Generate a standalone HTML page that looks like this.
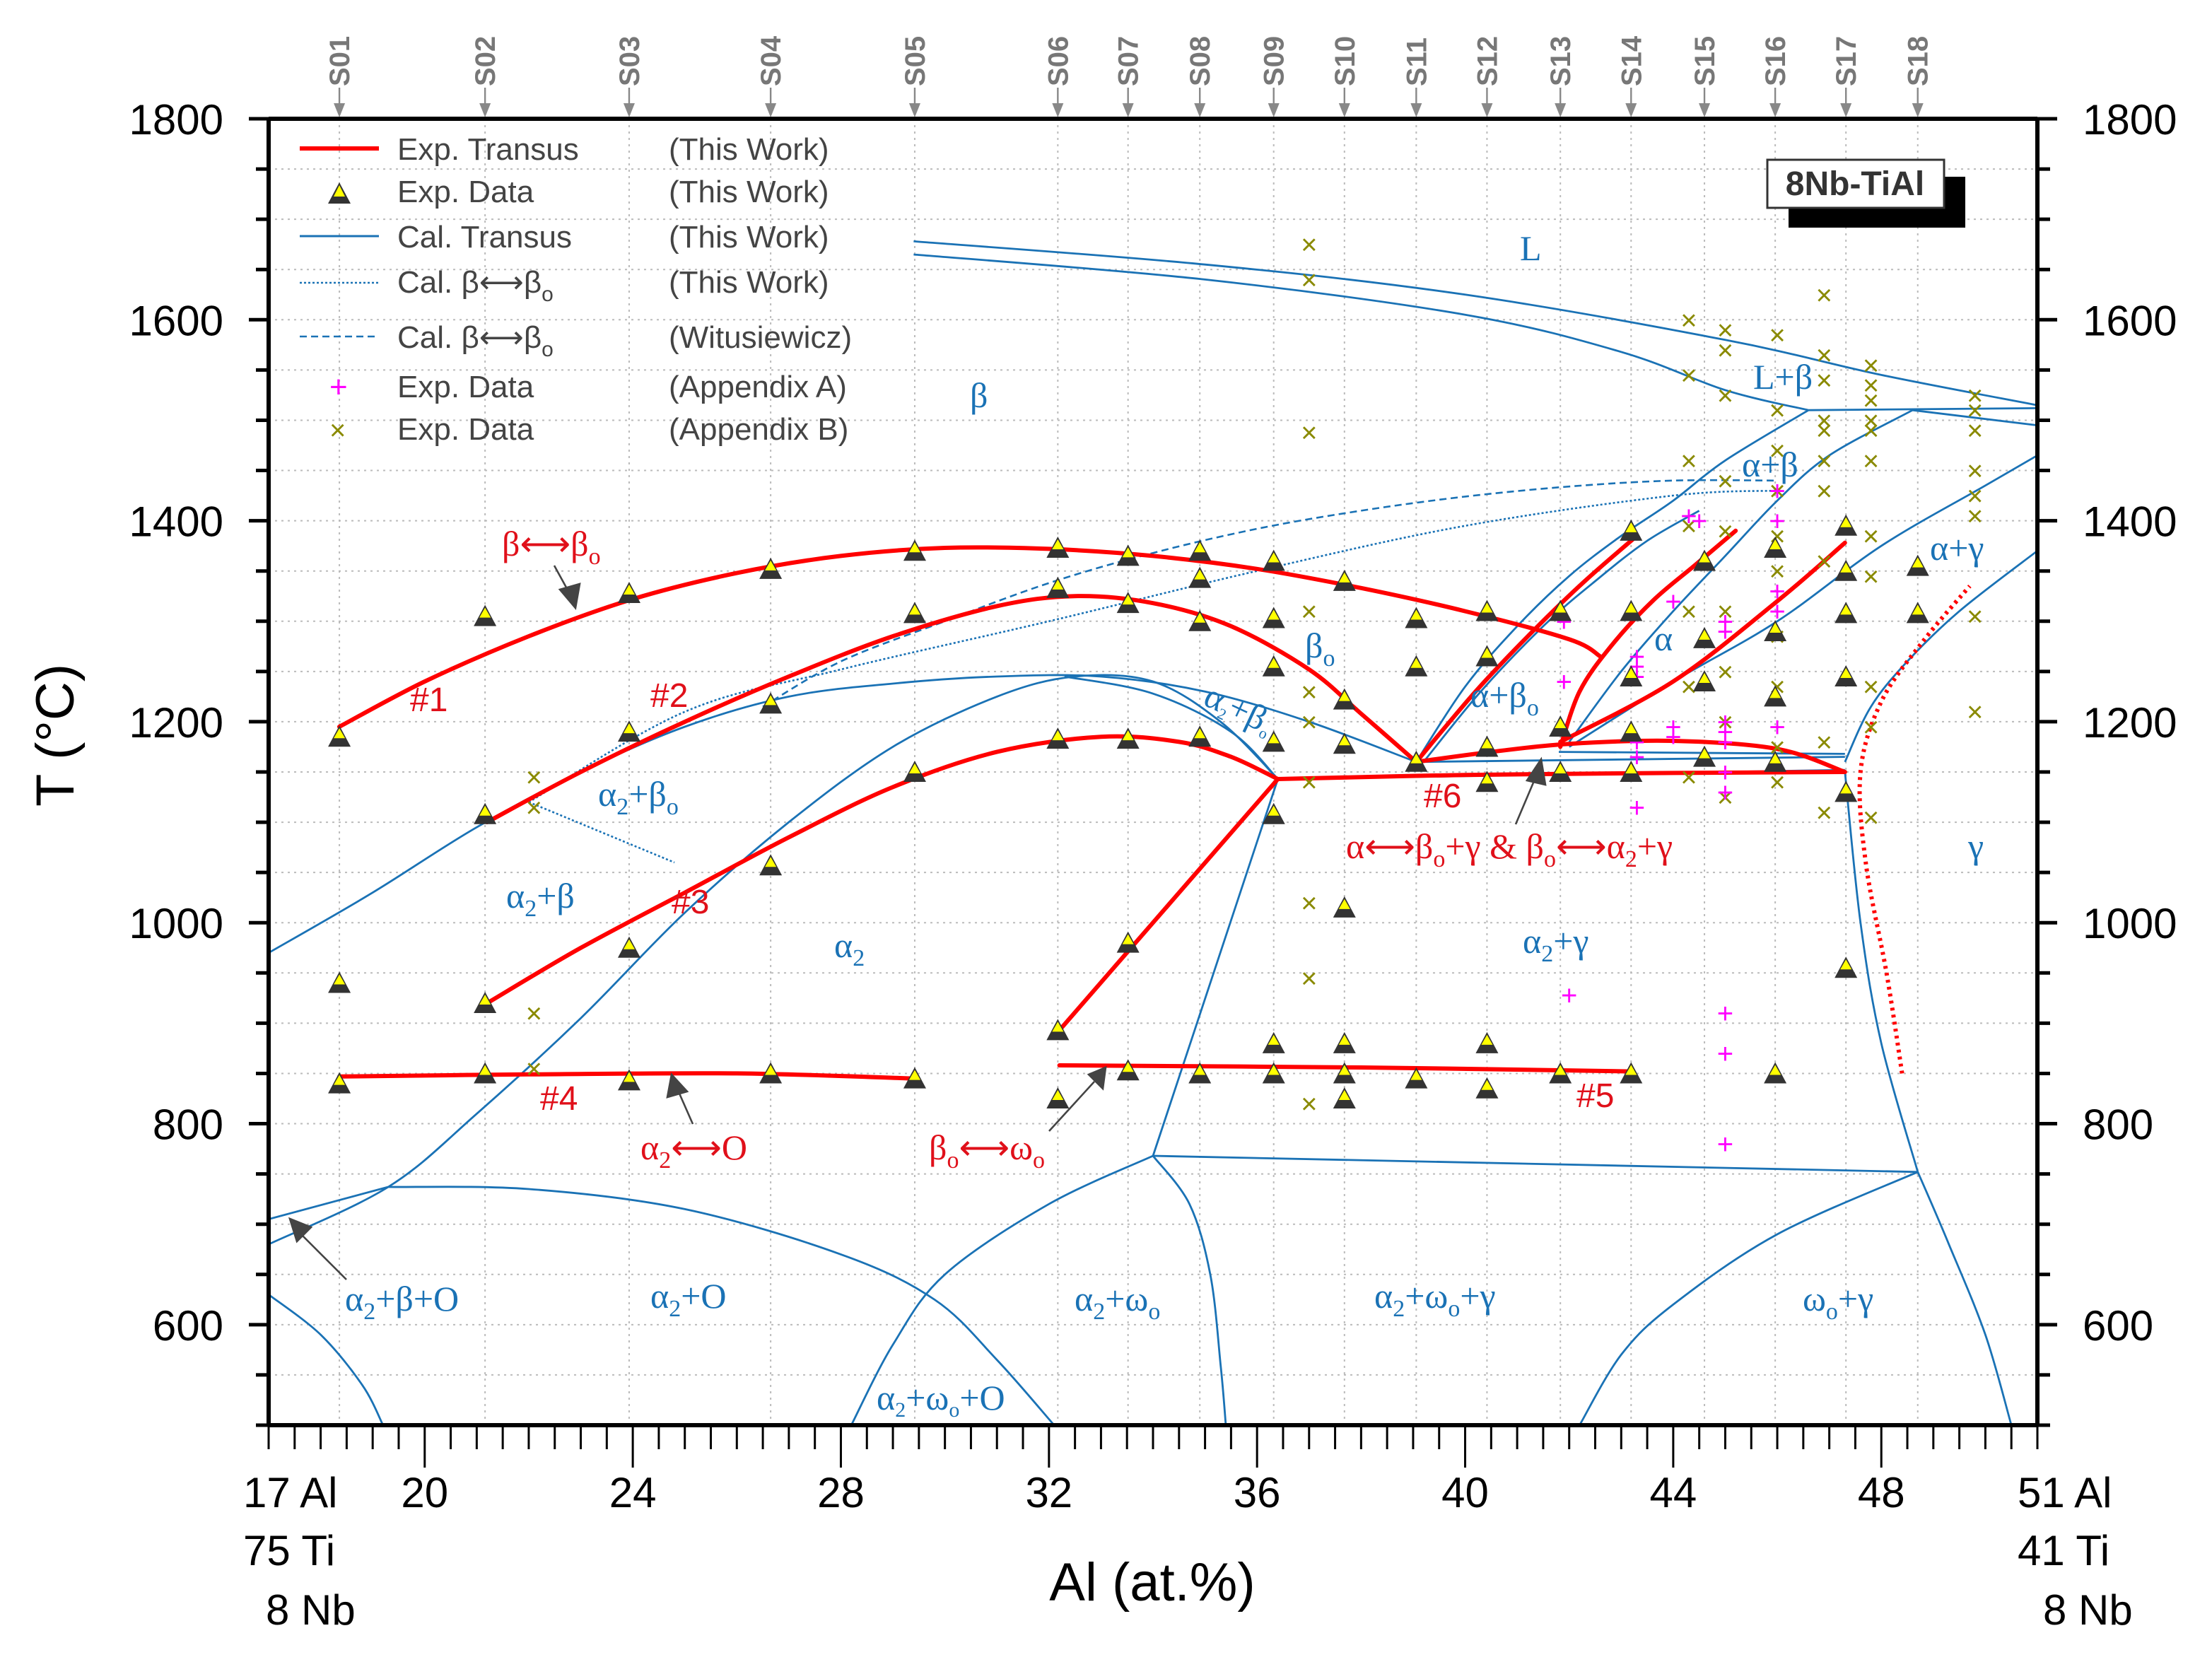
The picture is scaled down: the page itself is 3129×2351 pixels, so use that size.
<!DOCTYPE html>
<html><head><meta charset="utf-8">
<style>
html,body{margin:0;padding:0;background:#fff;}
svg{display:block;}
.tk{font-family:"Liberation Sans",sans-serif;font-size:30px;fill:#000;}
.lg{font-family:"Liberation Sans",sans-serif;font-size:22px;fill:#444;}
.ph{font-family:"Liberation Serif",serif;font-size:25px;fill:#1a72b5;}
.rd{font-family:"Liberation Sans",sans-serif;font-size:24px;fill:#e0101a;}
.rds{font-family:"Liberation Serif",serif;font-size:25px;fill:#e0101a;}
.sl{font-family:"Liberation Sans",sans-serif;font-size:20px;font-weight:bold;fill:#777;}
</style></head>
<body>
<svg id="chart" width="3129" height="2351" viewBox="0 0 1564.5 1175.5" xmlns="http://www.w3.org/2000/svg">
<g id="grid"></g>
<g id="calc"></g>
<g id="exp"></g>
<g id="marks"></g>
<g id="axes"></g>
<g id="labels">
<text class="ph" x="1075" y="184">L</text>
<text class="ph" x="686" y="288">β</text>
<text class="ph" x="1240" y="275">L+β</text>
<text class="ph" x="1232" y="337" font-size="22">α+β</text>
<text class="ph" x="1365" y="396">α+γ</text>
<text class="ph" x="923" y="465">β<tspan font-size="17" dy="6">o</tspan></text>
<text class="ph" x="1170" y="460">α</text>
<text class="ph" x="1040" y="500">α+β<tspan font-size="17" dy="6">o</tspan></text>
<text class="ph" x="850" y="498" font-size="17" transform="rotate(25 850 498)">α<tspan font-size="11" dy="4">2</tspan><tspan dy="-4">+β</tspan><tspan font-size="11" dy="4">o</tspan></text>
<text class="ph" x="423" y="570">α<tspan font-size="17" dy="6">2</tspan><tspan dy="-6">+β</tspan><tspan font-size="17" dy="6">o</tspan></text>
<text class="ph" x="358" y="642">α<tspan font-size="17" dy="6">2</tspan><tspan dy="-6">+β</tspan></text>
<text class="ph" x="590" y="677">α<tspan font-size="17" dy="6">2</tspan></text>
<text class="ph" x="1077" y="674">α<tspan font-size="17" dy="6">2</tspan><tspan dy="-6">+γ</tspan></text>
<text class="ph" x="1392" y="607">γ</text>
<text class="ph" x="244" y="927">α<tspan font-size="17" dy="6">2</tspan><tspan dy="-6">+β+O</tspan></text>
<text class="ph" x="460" y="925">α<tspan font-size="17" dy="6">2</tspan><tspan dy="-6">+O</tspan></text>
<text class="ph" x="760" y="927">α<tspan font-size="17" dy="6">2</tspan><tspan dy="-6">+ω</tspan><tspan font-size="17" dy="6">o</tspan></text>
<text class="ph" x="972" y="925">α<tspan font-size="17" dy="6">2</tspan><tspan dy="-6">+ω</tspan><tspan font-size="17" dy="6">o</tspan><tspan dy="-6">+γ</tspan></text>
<text class="ph" x="1275" y="927">ω<tspan font-size="17" dy="6">o</tspan><tspan dy="-6">+γ</tspan></text>
<text class="ph" x="620" y="997" font-size="22">α<tspan font-size="15" dy="5">2</tspan><tspan dy="-5">+ω</tspan><tspan font-size="15" dy="5">o</tspan><tspan dy="-5">+O</tspan></text>
<text class="rds" x="355" y="393">β⟷β<tspan font-size="17" dy="6">o</tspan></text>
<text class="rd" x="290" y="503">#1</text>
<text class="rd" x="460" y="500">#2</text>
<text class="rd" x="475" y="646">#3</text>
<text class="rd" x="382" y="785">#4</text>
<text class="rd" x="1115" y="783">#5</text>
<text class="rd" x="1007" y="571">#6</text>
<text class="rds" x="453" y="820">α<tspan font-size="17" dy="6">2</tspan><tspan dy="-6">⟷O</tspan></text>
<text class="rds" x="657" y="820">β<tspan font-size="17" dy="6">o</tspan><tspan dy="-6">⟷ω</tspan><tspan font-size="17" dy="6">o</tspan></text>
<text class="rds" x="952" y="607">α⟷β<tspan font-size="17" dy="6">o</tspan><tspan dy="-6">+γ &amp; β</tspan><tspan font-size="17" dy="6">o</tspan><tspan dy="-6">⟷α</tspan><tspan font-size="17" dy="6">2</tspan><tspan dy="-6">+γ</tspan></text>
</g>
<g id="arrows" stroke="#444" stroke-width="1.3" fill="#444">
<line x1="392" y1="400" x2="403" y2="420"/><polygon points="407,430 396,417 410,413"/>
<line x1="490" y1="795" x2="479" y2="770"/><polygon points="475,760 472,776 486,772"/>
<line x1="742" y1="800" x2="774" y2="765"/><polygon points="782,755 770,760 780,770"/>
<line x1="1072" y1="583" x2="1086" y2="550"/><polygon points="1090,537 1080,552 1093,555"/>
<line x1="245" y1="905" x2="212" y2="872"/><polygon points="205,862 210,878 220,868"/>
</g>
<g id="legend">
<line x1="212" y1="105" x2="268" y2="105" stroke="#f00" stroke-width="3"/>
<text class="lg" x="281" y="113">Exp. Transus</text><text class="lg" x="473" y="113">(This Work)</text>
<polygon points="232,144 248,144 240,129" fill="#333"/><polygon points="236,139 244,139 240,131" fill="#ff0"/>
<text class="lg" x="281" y="143">Exp. Data</text><text class="lg" x="473" y="143">(This Work)</text>
<line x1="212" y1="167" x2="268" y2="167" stroke="#1a72b5" stroke-width="1.5"/>
<text class="lg" x="281" y="175">Cal. Transus</text><text class="lg" x="473" y="175">(This Work)</text>
<line x1="212" y1="200" x2="268" y2="200" stroke="#1a72b5" stroke-width="1.3" stroke-dasharray="1.5,1.5"/>
<text class="lg" x="281" y="207">Cal. β⟷β<tspan font-size="15" dy="6">o</tspan></text><text class="lg" x="473" y="207">(This Work)</text>
<line x1="212" y1="238" x2="268" y2="238" stroke="#1a72b5" stroke-width="1.3" stroke-dasharray="5,3"/>
<text class="lg" x="281" y="246">Cal. β⟷β<tspan font-size="15" dy="6">o</tspan></text><text class="lg" x="473" y="246">(Witusiewicz)</text>
<text x="233" y="281" font-size="22" fill="#f0f" font-family="Liberation Sans">+</text>
<text class="lg" x="281" y="281">Exp. Data</text><text class="lg" x="473" y="281">(Appendix A)</text>
<text x="233" y="311" font-size="20" fill="#8a8a00" font-family="Liberation Sans">×</text>
<text class="lg" x="281" y="311">Exp. Data</text><text class="lg" x="473" y="311">(Appendix B)</text>
</g>
<g>
<rect x="1265" y="125" width="125" height="36" fill="#000"/>
<rect x="1250" y="113" width="125" height="34" fill="#fff" stroke="#333" stroke-width="1.5"/>
<text x="1312" y="138" text-anchor="middle" font-family="Liberation Sans" font-weight="bold" font-size="24" fill="#333">8Nb-TiAl</text>
</g>
</svg>
<script>
const NS='http://www.w3.org/2000/svg';
const X0=17,X1=51,T0=500,T1=1800;
const xPix=a=>190+(a-X0)*(1441-190)/(X1-X0);
const yPix=t=>1008-(t-T0)*(1008-84)/(T1-T0);
const yTicks=[600,800,1000,1200,1400,1600,1800];
const xTicks=[20,24,28,32,36,40,44,48];
const sampleNames=['S01','S02','S03','S04','S05','S06','S07','S08','S09','S10','S11','S12','S13','S14','S15','S16','S17','S18'];
const sampleAl=[18.36,21.16,23.93,26.65,29.42,32.17,33.52,34.9,36.32,37.68,39.06,40.42,41.83,43.19,44.6,45.96,47.32,48.7];
const expTemps=[[1185,940,840],[1305,1108,920,850],[1328,1190,975,843],[1352,1218,1057,850],[1370,1308,1150,845],[1373,1333,1183,893,825],[1365,1318,1183,980,853],[1370,1343,1300,1185,850],[1360,1303,1255,1180,1108,880,850],[1340,1222,1178,1015,880,850,825],[1303,1255,1160,845],[1310,1265,1175,1140,880,835],[1310,1195,1150,850],[1390,1310,1245,1190,1150,850],[1360,1283,1240,1165],[1373,1290,1225,1160,850],[1395,1350,1308,1245,1130,955],[1355,1308]];
const appAAl=[41.9,41.9,42,43.3,43.3,43.3,43.3,43.3,43.3,44,44,44.3,44.5,45,45,45,45,45,45,45,45,45,45,46,46,46,46,46,44];
const appAT=[1300,1240,928,1255,1265,1245,1180,1165,1115,1320,1195,1405,1400,1300,1290,1200,1190,1180,1150,1130,910,870,780,1430,1400,1330,1310,1195,1185];
const appBAl=[37,37,37,37,37,37,37,37,37,37,22.1,22.1,22.1,22.1,44.3,44.3,44.3,44.3,44.3,44.3,44.3,45,45,45,45,45,45,45,45,45,46,46,46,46,46,46,46,46,46,46,46.9,46.9,46.9,46.9,46.9,46.9,46.9,46.9,46.9,46.9,47.8,47.8,47.8,47.8,47.8,47.8,47.8,47.8,47.8,47.8,47.8,49.8,49.8,49.8,49.8,49.8,49.8,49.8,49.8];
const appBT=[1675,1640,1488,1310,1230,1200,1140,1020,945,820,1145,1115,910,855,1600,1545,1460,1395,1310,1235,1145,1590,1570,1525,1440,1390,1310,1250,1200,1125,1585,1510,1470,1430,1385,1350,1285,1235,1175,1140,1625,1565,1540,1500,1490,1460,1430,1360,1180,1110,1555,1535,1520,1500,1490,1460,1385,1345,1235,1195,1105,1525,1510,1490,1450,1425,1405,1305,1210];
const expLines=[
 {n:'exp-line-1',p:[[18.36,1195],[20,1240],[22,1285],[24,1322],[26,1348],[28,1365],[30,1373],[32,1372],[34,1365],[36,1352],[38,1333],[40,1310],[42,1282],[42.6,1265]]},
 {n:'exp-line-2',p:[[21.2,1100],[23,1150],[25,1200],[27,1245],[29,1285],[31,1315],[32.5,1325],[34,1318],[35.5,1295],[37,1252],[38,1208],[39.06,1160]]},
 {n:'exp-line-3',p:[[21.2,920],[23,975],[25,1030],[27,1085],[29,1135],[31,1170],[33,1185],[34.5,1180],[35.5,1165],[36.4,1143]]},
 {n:'exp-line-3b',p:[[32.2,893],[36.4,1143]]},
 {n:'exp-line-4',p:[[18.36,847],[22,849],[26,850],[29.4,845]]},
 {n:'exp-line-5',p:[[32.2,858],[38,856],[43.2,852]]},
 {n:'exp-line-6-low',p:[[36.4,1143],[40,1147],[44,1149],[47.3,1150]]},
 {n:'exp-line-6-high',p:[[39.06,1160],[40.5,1170],[42,1178],[44,1181],[46,1173],[47.3,1150]]},
 {n:'exp-line-alpha-beta',p:[[39.06,1160],[40.2,1230],[41.3,1290],[42.3,1340],[43.3,1385]]},
 {n:'exp-line-alpha-left',p:[[41.83,1175],[42.2,1230],[42.8,1275],[43.6,1320],[44.4,1355],[45.2,1390]]},
 {n:'exp-line-alpha-right',p:[[41.83,1180],[44,1240],[46,1320],[47.3,1378]]}
];
const dottedRed=[[48.4,850],[48.1,950],[47.7,1060],[47.6,1150],[48,1220],[48.8,1280],[49.7,1335]];
const calcLines=[
 {n:'liquidus',p:[[29.4,1678],[35,1655],[40,1625],[45,1580],[48,1545],[51,1515]]},
 {n:'solidus',p:[[29.4,1665],[35,1640],[40,1605],[43,1568],[45,1530],[46.6,1510]]},
 {n:'peritectic-flat',p:[[46.6,1510],[51,1512]]},
 {n:'peritectic',p:[[48.6,1510],[51,1495]]},
 {n:'beta-alpha-1',p:[[39.06,1160],[40,1235],[41,1295],[42,1345],[43,1385],[44,1420],[45,1460],[46.6,1510]]},
 {n:'beta-alpha-2',p:[[39.2,1160],[40.3,1230],[41.5,1295],[42.5,1340],[43.5,1380],[44.5,1410]]},
 {n:'alpha-beta-lower',p:[[42,1180],[43,1250],[44,1310],[45,1365],[46,1420],[47,1465],[48.6,1510]]},
 {n:'alpha-alpha-gamma',p:[[42,1175],[44,1240],[46,1300],[48,1375],[50,1435],[51,1465]]},
 {n:'gamma-solvus',p:[[47.3,1160],[47.8,1215],[48.5,1260],[49.5,1310],[51,1370]]},
 {n:'gamma-lower',p:[[47.3,1150],[47.6,1000],[48,880],[48.7,752]]},
 {n:'alpha2-gamma-left',p:[[36.4,1143],[34,768]]},
 {n:'omega-line',p:[[34,768],[48.7,752]]},
 {n:'omega-right-1',p:[[34,768],[34.7,720],[35.1,650],[35.3,560],[35.4,500]]},
 {n:'omega-left',p:[[34,768],[32,720],[30,650],[29,580],[28.2,500]]},
 {n:'omega-gamma-left',p:[[48.7,752],[46,690],[44,620],[43,570],[42.2,500]]},
 {n:'omega-gamma-right',p:[[48.7,752],[49.3,680],[50,590],[50.5,500]]},
 {n:'O-boundary-a',p:[[17,705],[19.3,737]]},
 {n:'O-boundary',p:[[19.3,737],[22,735],[25,715],[28,670],[29.8,625],[31,565],[32.1,500]]},
 {n:'O-left',p:[[17,630],[18,590],[18.8,540],[19.2,500]]},
 {n:'beta-alpha2-beta',p:[[17,970],[19,1030],[21,1095],[23,1150],[25,1195],[27,1225],[29,1238],[31,1245],[33,1245],[35,1230],[37,1200],[39.06,1160]]},
 {n:'alpha2-beta-alpha2',p:[[17,680],[19.3,737],[21,810],[23,905],[25,1010],[27,1100],[29,1175],[31,1225],[32.5,1245],[34,1240],[35.3,1200],[36.4,1143]]},
 {n:'alpha2-beta-o',p:[[32.3,1245],[34,1228],[35.5,1190],[36.4,1143]]},
 {n:'eutectoid-a',p:[[36.4,1143],[47.3,1152]]},
 {n:'eutectoid-b',p:[[39.06,1160],[47.3,1165]]},
 {n:'eutectoid-c',p:[[41.8,1170],[47.3,1168]]}
];
const calcDotted=[[22,1120],[25,1210],[28,1252],[32,1300],[36,1350],[40,1395],[44,1425],[46,1430]];
const calcDotted2=[[22,1120],[24.8,1060]];
const witDashed=[[26.5,1215],[28,1260],[30,1300],[32,1338],[34,1368],[36,1392],[38,1410],[40,1424],[42,1434],[44,1440],[46,1440]];

function el(tag,attrs,parent){const e=document.createElementNS(NS,tag);for(const k in attrs)e.setAttribute(k,attrs[k]);parent.appendChild(e);return e;}
function pathD(p){
  const q=p.map(v=>[xPix(v[0]),yPix(v[1])]);
  let d='M'+q[0][0].toFixed(1)+','+q[0][1].toFixed(1);
  if(q.length<3){for(let i=1;i<q.length;i++)d+=' L'+q[i][0].toFixed(1)+','+q[i][1].toFixed(1);return d;}
  for(let i=0;i<q.length-1;i++){
    const p0=q[Math.max(0,i-1)],p1=q[i],p2=q[i+1],p3=q[Math.min(q.length-1,i+2)];
    const c1=[p1[0]+(p2[0]-p0[0])/6,p1[1]+(p2[1]-p0[1])/6],c2=[p2[0]-(p3[0]-p1[0])/6,p2[1]-(p3[1]-p1[1])/6];
    d+=` C${c1[0].toFixed(1)},${c1[1].toFixed(1)} ${c2[0].toFixed(1)},${c2[1].toFixed(1)} ${p2[0].toFixed(1)},${p2[1].toFixed(1)}`;
  }
  return d;
}
const grid=document.getElementById('grid'),calc=document.getElementById('calc'),exp=document.getElementById('exp'),marks=document.getElementById('marks'),axes=document.getElementById('axes');
for(let t=550;t<1800;t+=50){const g=el('line',{x1:190,x2:1441,y1:yPix(t),y2:yPix(t),stroke:'#bbb','stroke-width':1,'stroke-dasharray':'1.5,3'},grid);

}
sampleAl.forEach((a,i)=>{const g=el('line',{x1:xPix(a),x2:xPix(a),y1:84,y2:1008,stroke:'#bbb','stroke-width':1,'stroke-dasharray':'1.5,3'},grid);


const x=xPix(a);
const ar=el('line',{x1:x,x2:x,y1:62,y2:76,stroke:'#888','stroke-width':1.2},axes);


const ah=el('polygon',{points:`${x-4},73 ${x+4},73 ${x},83`,fill:'#888'},axes);


const s=el('text',{class:'sl',x:x+7,y:61,transform:`rotate(-90 ${x+7} 61)`},axes);s.textContent=sampleNames[i];

});
calcLines.forEach(c=>{const p=el('path',{d:pathD(c.p),fill:'none',stroke:'#1a72b5','stroke-width':1.4,'stroke-linejoin':'round'},calc);

});
[[calcDotted,'1.5,1.5','calc-beta-betao-this-work'],[calcDotted2,'1.5,1.5','calc-beta-betao-branch'],[witDashed,'5,3','calc-beta-betao-witusiewicz']].forEach(d=>{const p=el('path',{d:pathD(d[0]),fill:'none',stroke:'#1a72b5','stroke-width':1.3,'stroke-dasharray':d[1]},calc);

});
expLines.forEach(c=>{const p=el('path',{d:pathD(c.p),fill:'none',stroke:'#f00','stroke-width':3,'stroke-linejoin':'round','stroke-linecap':'round'},exp);

});
{const p=el('path',{d:pathD(dottedRed),fill:'none',stroke:'#f00','stroke-width':3,'stroke-dasharray':'2,3'},exp);

}
appBAl.forEach((a,i)=>{const t=el('text',{x:xPix(a),y:yPix(appBT[i])+7,'text-anchor':'middle','font-size':20,fill:'#8a8a00','font-family':'Liberation Sans'},marks);t.textContent='×';

});
appAAl.forEach((a,i)=>{const t=el('text',{x:xPix(a),y:yPix(appAT[i])+7,'text-anchor':'middle','font-size':20,fill:'#f0f','font-family':'Liberation Sans'},marks);t.textContent='+';

});
sampleAl.forEach((a,i)=>{expTemps[i].forEach(T=>{const x=xPix(a),y=yPix(T);
const g=el('g',{},marks);


el('polygon',{points:`${x-8},${y+7} ${x+8},${y+7} ${x},${y-8}`,fill:'#333'},g);
el('polygon',{points:`${x-4},${y+1} ${x+4},${y+1} ${x},${y-6}`,fill:'#ff0'},g);});});
[[190,84,1441,84],[190,1008,1441,1008],[190,84,190,1008],[1441,84,1441,1008]].forEach(l=>{const a=el('line',{x1:l[0],y1:l[1],x2:l[2],y2:l[3],stroke:'#000','stroke-width':3},axes);

});
for(let t=500;t<=1800;t+=50){const y=yPix(t),big=t%200===0&&t>=600;
el('line',{x1:190-(big?14:9),x2:190,y1:y,y2:y,stroke:'#000','stroke-width':2.5},axes);
el('line',{x1:1441,x2:1441+(big?14:9),y1:y,y2:y,stroke:'#000','stroke-width':2.5},axes);}
for(let a=17;a<=51.01;a+=0.5){const x=xPix(a),big=xTicks.includes(a);
el('line',{x1:x,x2:x,y1:1008,y2:1008+(big?30:17),stroke:'#000','stroke-width':1.5},axes);}
yTicks.forEach(t=>{const l=el('text',{class:'tk','text-anchor':'end',x:158,y:yPix(t)+11},axes);l.textContent=t;


const r=el('text',{class:'tk',x:1473,y:yPix(t)+11},axes);r.textContent=t;

});
xTicks.forEach(a=>{const l=el('text',{class:'tk','text-anchor':'middle',x:xPix(a),y:1066},axes);l.textContent=a;

});
[['17 Al',172,1066],['75 Ti',172,1107],['8 Nb',188,1149],['51 Al',1427,1066],['41 Ti',1427,1107],['8 Nb',1445,1149]].forEach(s=>{const l=el('text',{class:'tk',x:s[1],y:s[2]},axes);l.textContent=s[0];

});
{const l=el('text',{class:'tk',x:815,y:1132,'text-anchor':'middle'},axes);l.textContent='Al (at.%)';l.style.fontSize='38px';


const y=el('text',{class:'tk',x:52,y:520,'text-anchor':'middle',transform:'rotate(-90 52 520)'},axes);y.textContent='T (°C)';y.style.fontSize='38px';

}
</script>
</body></html>
